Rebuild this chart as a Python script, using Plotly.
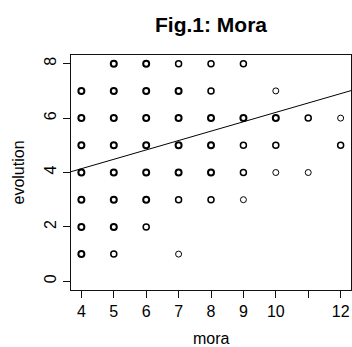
import plotly.graph_objects as go
from collections import Counter

# Raw observations (overplotted points repeated)
mora_vals = [4]*3 + [4]*3 + [4]*3 + [4]*3 + [4]*3 + [4]*3 + [4]*4 \
    + [5]*3 + [5]*4 + [5]*4 + [5]*3 + [5]*3 + [5]*4 + [5]*3 + [5]*2 \
    + [6]*3 + [6]*3 + [6]*3 + [6]*3 + [6]*3 + [6]*3 + [6]*2 \
    + [7]*2 + [7]*3 + [7]*3 + [7]*3 + [7]*3 + [7]*2 + [7]*1 \
    + [8]*2 + [8]*2 + [8]*3 + [8]*3 + [8]*3 + [8]*2 \
    + [9]*2 + [9]*3 + [9]*2 + [9]*2 + [9]*1 \
    + [10]*1 + [10]*3 + [10]*2 + [10]*1 \
    + [11]*2 + [11]*1 \
    + [12]*1 + [12]*2
evolution_vals = [7]*3 + [6]*3 + [5]*3 + [4]*3 + [3]*3 + [2]*3 + [1]*4 \
    + [8]*3 + [7]*4 + [6]*4 + [5]*3 + [4]*3 + [3]*4 + [2]*3 + [1]*2 \
    + [8]*3 + [7]*3 + [6]*3 + [5]*3 + [4]*3 + [3]*3 + [2]*2 \
    + [8]*2 + [7]*3 + [6]*3 + [5]*3 + [4]*3 + [3]*2 + [1]*1 \
    + [8]*2 + [7]*2 + [6]*3 + [5]*3 + [4]*3 + [3]*2 \
    + [8]*2 + [6]*3 + [5]*2 + [4]*2 + [3]*1 \
    + [7]*1 + [6]*3 + [5]*2 + [4]*1 \
    + [6]*2 + [4]*1 \
    + [6]*1 + [5]*2

fit_coef = [2.76, 0.345]  # intercept, slope

x_ticks = [4, 5, 6, 7, 8, 9, 10, 11, 12]
x_ticktext = ["4", "5", "6", "7", "8", "9", "10", "", "12"]
y_ticks = [0, 2, 4, 6, 8]

xr = [3.68, 12.32]
yr = [-0.32, 8.32]

counts = Counter(zip(mora_vals, evolution_vals))
px = [k[0] for k in counts]
py = [k[1] for k in counts]
lw = [{1: 1.0, 2: 1.5}.get(n, 2.0) for n in counts.values()]

fig = go.Figure()
fig.add_trace(go.Scatter(
    x=px, y=py, mode="markers",
    marker=dict(symbol="circle-open", size=6, color="black",
                line=dict(width=lw, color="black")),
    showlegend=False, cliponaxis=False))
fig.add_trace(go.Scatter(
    x=xr, y=[fit_coef[0] + fit_coef[1] * v for v in xr], mode="lines",
    line=dict(color="black", width=1), showlegend=False))

font = "Liberation Sans, Arial, Helvetica, sans-serif"
axis_common = dict(ticks="outside", ticklen=7, tickwidth=1.3, tickcolor="#111111",
                   showline=True, linecolor="#111111", linewidth=1.3, mirror=True,
                   showgrid=False, zeroline=False, automargin=False)
fig.update_layout(
    template="none",
    width=352, height=347,
    margin=dict(l=71, r=1, t=55, b=57),
    paper_bgcolor="white", plot_bgcolor="white",
    font=dict(family=font, size=16, color="black"),
    title=dict(text="<b>Fig.1: Mora</b>", x=(71 + 351) / 2 / 352, xanchor="center",
               y=1 - 25 / 347, yanchor="middle", font=dict(size=21, family=font)),
    xaxis=dict(range=xr, tickvals=x_ticks, ticktext=x_ticktext, **axis_common),
    yaxis=dict(range=yr, tickvals=y_ticks, tickangle=-90, **axis_common),
    annotations=[
        dict(text="mora", xref="paper", yref="paper", x=0.5, y=-48 / 235,
             xanchor="center", yanchor="middle", showarrow=False, font=dict(size=16)),
        dict(text="evolution", xref="paper", yref="paper", x=-53 / 280, y=0.5,
             xanchor="center", yanchor="middle", textangle=-90, showarrow=False,
             font=dict(size=16)),
    ],
)
fig.write_html("out.html", config={"displayModeBar": False},
               post_script="document.body.style.margin='0';document.body.style.overflow='hidden';")
